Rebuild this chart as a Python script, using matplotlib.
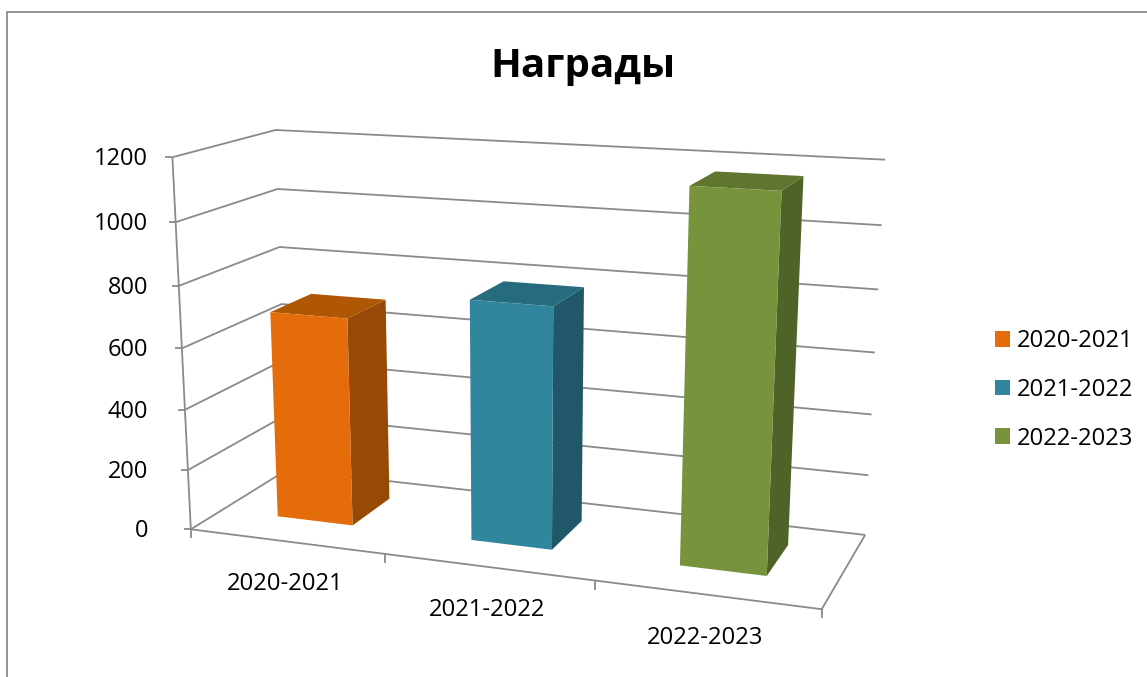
import numpy as np
import matplotlib
matplotlib.use('Agg')
import matplotlib.pyplot as plt
from matplotlib.patches import Patch

# data
title = 'Награды'
categories = ['2020-2021', '2021-2022', '2022-2023']
values = [687, 778, 1165]
y_ticks = [0, 200, 400, 600, 800, 1000, 1200]

front_colors = ['#E46C0A', '#31859C', '#77933C']
side_colors = ['#964A05', '#20586A', '#4F6228']
top_colors = ['#B05706', '#276B7E', '#5F7530']
grid_color = '#8A8A8A'

y_max = 1200
bar_w = 0.395
bar_off = 0.495
z0, z1 = 0.31, 0.74

# the box of the chart on the page: (cat, value/ymax, depth) -> pixel
box = [
    ((0, 0, 0), (191, 527)),
    ((0, 1, 0), (172, 158)),
    ((0, 0, 1), (287, 472)),
    ((0, 1, 1), (276, 129)),
    ((3, 0, 0), (822, 611)),
    ((3, 0, 1), (865, 533)),
    ((3, 1, 1), (885, 160)),
]

A = []
b = []
for (X, Y, Z), (u, v) in box:
    A.append([X, Y, Z, 1, 0, 0, 0, 0, -u * X, -u * Y, -u * Z])
    b.append(u)
    A.append([0, 0, 0, 0, X, Y, Z, 1, -v * X, -v * Y, -v * Z])
    b.append(v)
P = np.linalg.lstsq(np.array(A, float), np.array(b, float), rcond=None)[0]
P = np.append(P, 1).reshape(3, 4)


def proj(x, val, z):
    p = P @ np.array([x, val / y_max, z, 1.0])
    return p[0] / p[2], p[1] / p[2]


fig = plt.figure(figsize=(11.47, 6.77), dpi=100)
ax = fig.add_axes([0, 0, 1, 1])
ax.set_xlim(0, 1147)
ax.set_ylim(677, 0)
ax.axis('off')
plt.rcParams['font.family'] = ['Open Sans', 'DejaVu Sans']


def line(pts, lw=1.3):
    xs, ys = zip(*pts)
    ax.plot(xs, ys, color=grid_color, lw=lw, solid_joinstyle='miter', solid_capstyle='butt', zorder=2)


# chart border
ax.plot([7, 7, 1147], [677, 12, 12], color=grid_color, lw=1.3)

# walls
for t in y_ticks:
    line([proj(0, t, 0), proj(0, t, 1), proj(3, t, 1)])
    fx, fy = proj(0, t, 0)
    line([(fx - 7, fy), (fx, fy)])
    ax.text(148, fy + 2, str(t), ha='right', va='center', fontsize=17, color='black')

# floor and axes
line([proj(0, 0, 0), proj(3, 0, 0), proj(3, 0, 1)])
line([proj(0, 0, 0), proj(0, y_max, 0)])
for i in range(4):
    fx, fy = proj(i, 0, 0)
    line([(fx, fy), (fx, fy + 9)])
for i, c in enumerate(categories):
    fx, fy = proj(i + 0.5, 0, 0)
    ax.text(fx - 1, fy + 43, c, ha='center', va='center', fontsize=17.2, color='black')

# bars
for i, val in enumerate(values):
    x0 = i + bar_off - bar_w / 2
    x1 = i + bar_off + bar_w / 2
    front = [proj(x0, 0, z0), proj(x1, 0, z0), proj(x1, val, z0), proj(x0, val, z0)]
    side = [proj(x1, 0, z0), proj(x1, 0, z1), proj(x1, val, z1), proj(x1, val, z0)]
    top = [proj(x0, val, z0), proj(x1, val, z0), proj(x1, val, z1), proj(x0, val, z1)]
    ax.fill(*zip(*side), color=side_colors[i], lw=0, zorder=3)
    ax.fill(*zip(*top), color=top_colors[i], lw=0, zorder=3)
    ax.fill(*zip(*front), color=front_colors[i], lw=0, zorder=3)

ax.text(583, 66, title, ha='center', va='center', fontsize=29, fontweight='bold', color='black')

handles = [Patch(facecolor=c, edgecolor='none') for c in front_colors]
ax.legend(handles, categories, loc='center left', bbox_to_anchor=(995, 390),
          bbox_transform=ax.transData, frameon=False, fontsize=17.2,
          handlelength=0.63, handleheight=0.63, handletextpad=0.3,
          labelspacing=1.03, borderpad=0, borderaxespad=0)

fig.savefig('out.png', dpi=100)
